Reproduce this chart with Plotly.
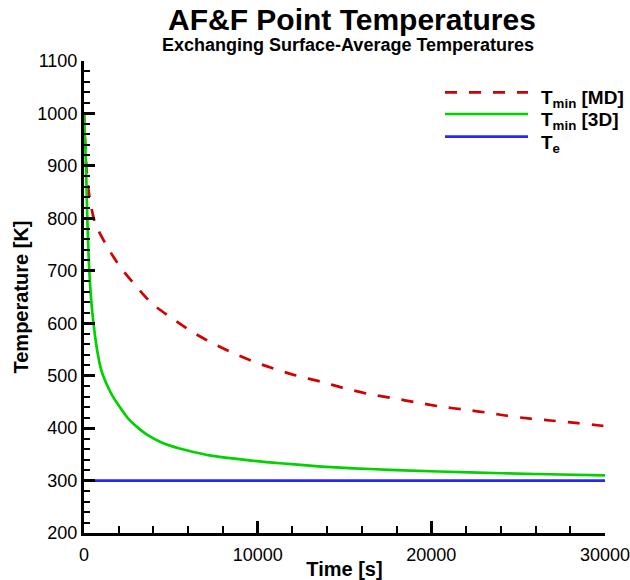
import plotly.graph_objects as go

# ---- data ----
t_md = [0, 60, 130, 200, 370, 650, 1300, 2070, 2940, 3900, 5050, 6200, 7450, 8800,
        10000, 11150, 12250, 13700, 15000, 16400, 17800, 19150, 20550, 21950, 23400,
        24250, 25700, 27000, 28450, 29700, 30000]
T_md = [1000, 950, 900, 870, 830, 790, 748, 708, 673, 638, 610, 584, 561, 540,
        524, 511, 500, 488, 476, 465, 457, 449, 441, 435, 428.6,
        424, 418, 414, 409.5, 405, 404]

t_3d = [0, 50, 115, 190, 305, 420, 535, 750, 1000, 1300, 1600, 2000, 2600, 3200, 3600,
        4500, 5500, 6500, 7400, 9400, 11300, 13000, 14500, 16500, 18400, 22200, 26000, 30000]
T_3d = [1000, 955, 900, 800, 700, 642, 603, 550, 510, 484, 464, 443, 416, 398, 388,
        372, 361, 353, 347, 339, 333, 328.5, 325, 322, 319.5, 315.5, 312.5, 310]

t_e = [0, 30000]
T_e = [300, 300]

series_names = ["T<sub>min</sub> [MD]", "T<sub>min</sub> [3D]", "T<sub>e</sub>"]
colors = ["rgb(210,0,0)", "rgb(0,210,0)", "rgb(40,40,245)"]
dashes = ["12px,12px", "solid", "solid"]

FONT = "Liberation Sans, Arial, sans-serif"

fig = go.Figure()
for t, T, name, c, d in zip([t_md, t_3d, t_e], [T_md, T_3d, T_e], series_names, colors, dashes):
    fig.add_trace(go.Scatter(x=t, y=T, mode="lines", name=name,
                             line=dict(color=c, width=2.7, dash=d, shape="spline", smoothing=0.8),
                             showlegend=False, cliponaxis=True))

# plot area in pixels: x 84..605, y 61..533
L, R, T_, B = 84, 605, 61, 533
W, H = 630, 580
pw, ph = R - L, B - T_

def px(x):
    return (x - L) / pw

def py(y):
    return (B - y) / ph

# manual legend
leg_y = [92.3, 114, 136.7]
shapes = []
annotations = []
for y, name, c, d in zip(leg_y, series_names, colors, dashes):
    shapes.append(dict(type="line", xref="paper", yref="paper",
                       x0=px(445), x1=px(528), y0=py(y), y1=py(y),
                       line=dict(color=c, width=2.7, dash=d)))
    annotations.append(dict(xref="paper", yref="paper", x=px(539), y=py(y - 7),
                            text="<b>" + name + "</b>", showarrow=False,
                            xanchor="left", yanchor="top",
                            font=dict(family=FONT, size=19, color="black")))

# titles
annotations.append(dict(xref="paper", yref="paper", x=px(352), y=py(19),
                        text="<b>AF&F Point Temperatures</b>", showarrow=False,
                        xanchor="center", yanchor="middle",
                        font=dict(family=FONT, size=30, color="black")))
annotations.append(dict(xref="paper", yref="paper", x=px(348), y=py(45),
                        text="<b>Exchanging Surface-Average Temperatures</b>", showarrow=False,
                        xanchor="center", yanchor="middle",
                        font=dict(family=FONT, size=18, color="black")))

fig.update_layout(
    width=W, height=H,
    margin=dict(l=L, r=W - R, t=T_, b=H - B, pad=0, autoexpand=False),
    paper_bgcolor="white", plot_bgcolor="white",
    font=dict(family=FONT, size=18, color="black"),
    shapes=shapes, annotations=annotations,
    xaxis=dict(range=[0, 30000], tickvals=[0, 10000, 20000, 30000],
               ticktext=["0", "10000", "20000", "30000"],
               automargin=False, ticklabeloverflow="allow", ticklabelstandoff=3,
               showline=True, linecolor="black", linewidth=3, mirror=False,
               ticks="inside", ticklen=12, tickwidth=2.5, tickcolor="black",
               minor=dict(dtick=2000, ticks="inside", ticklen=7, tickwidth=1.5, tickcolor="black"),
               showgrid=False, zeroline=False,
               tickfont=dict(family=FONT, size=18, color="black"),
               title=dict(text="<b>Time [s]</b>", font=dict(family=FONT, size=20, color="black"),
                          standoff=0)),
    yaxis=dict(range=[200, 1100], dtick=100,
               automargin=False, ticklabeloverflow="allow",
               showline=True, linecolor="black", linewidth=3, mirror=False,
               ticks="inside", ticklen=11, tickwidth=2.5, tickcolor="black",
               minor=dict(dtick=20, ticks="inside", ticklen=6, tickwidth=1.5, tickcolor="black"),
               showgrid=False, zeroline=False,
               tickfont=dict(family=FONT, size=18, color="black"),
               title=dict(text="<b>Temperature [K]</b>", font=dict(family=FONT, size=20, color="black"),
                          standoff=4)),
)

fig.write_html("out.html")
